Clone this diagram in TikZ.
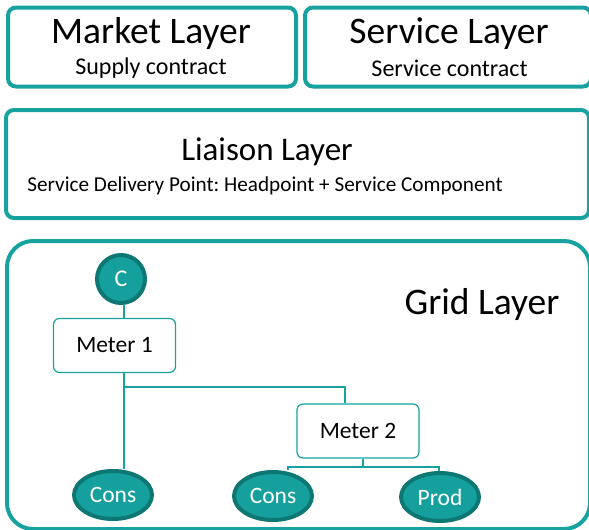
\documentclass[tikz,border=0pt]{standalone}
\usepackage{fontspec}
\setmainfont{Carlito}
\usetikzlibrary{shapes.geometric}
\definecolor{teal1}{HTML}{17A2A0}
\definecolor{tealfill}{HTML}{15A09E}
\definecolor{tealdark}{HTML}{0D7873}
\frenchspacing
\begin{document}
\begin{tikzpicture}[x=1pt,y=-1pt,
  layerbox/.style={draw=teal1,line width=4pt,rounded corners=8pt,inner sep=0pt},
  gridbox/.style={draw=teal1,line width=4pt,rounded corners=26pt,inner sep=0pt},
  meterbox/.style={draw=teal1,line width=1.2pt,rounded corners=6pt,fill=white,
    minimum width=122pt,minimum height=54pt,font=\fontsize{23.5}{25}\selectfont},
  devnode/.style={ellipse,fill=tealfill,draw=tealdark,line width=4pt,text=white,
    minimum width=78pt,minimum height=48pt,inner sep=0pt,font=\fontsize{23.5}{25}\selectfont},
  cnode/.style={circle,fill=tealfill,draw=tealdark,line width=4pt,text=white,
    minimum size=48pt,inner sep=0pt,font=\fontsize{24}{26}\selectfont},
  title/.style={font=\fontsize{37.5}{40}\selectfont,inner sep=0pt},
  sub/.style={font=\fontsize{24}{26}\selectfont,inner sep=0pt},
  wire/.style={draw=teal1,line width=1.8pt}]
\useasboundingbox (0,0) rectangle (589,530);

% layer frames
\node[layerbox,minimum width=288pt,minimum height=79pt] (market) at (152,47) {};
\node[layerbox,minimum width=286pt,minimum height=79pt] (service) at (448,47) {};
\node[layerbox,minimum width=583pt,minimum height=108pt] (liaison) at (297.5,164) {};
\node[gridbox,minimum width=583pt,minimum height=288pt] (grid) at (298.5,385) {};

% layer labels
\node[title] (mt) at (151,34) {Market Layer};
\node[sub] (ms) at (151,68) {Supply contract};
\node[title] (st) at (449,34) {Service Layer};
\node[sub] (ss) at (449.5,68) {Service contract};
\node[title,font=\fontsize{33}{36}\selectfont] (lt) at (267,152) {Liaison Layer};
\node[sub,font=\fontsize{21.2}{23}\selectfont] (ls) at (265,186) {Service Delivery Point: Headpoint + Service Component};
\node[title] (gt) at (482,304) {Grid Layer};

% grid elements
\node[cnode] (c) at (121,279) {C};
\node[meterbox] (m1) at (114.5,345.5) {Meter 1};
\node[meterbox] (m2) at (358,431) {Meter 2};
\node[devnode] (cons1) at (113,495) {Cons};
\node[devnode] (cons2) at (273,496) {Cons};
\node[devnode] (prod) at (440,497) {Prod};

\coordinate (j1) at (124,387);
\coordinate (j2) at (363,467);

% connections
\draw[wire] (c.south -| 124,0) -- (m1.north -| 124,0);
\draw[wire] (m1.south -| 124,0) -- (cons1.north -| 124,0);
\draw[wire] (j1) -| (m2.north -| 345,0);
\draw[wire] (m2.south -| j2) -- (j2);
\draw[wire] (j2) -| (cons2.north -| 288,0);
\draw[wire] (j2) -| (prod.north -| 439,0);
\end{tikzpicture}
\end{document}
